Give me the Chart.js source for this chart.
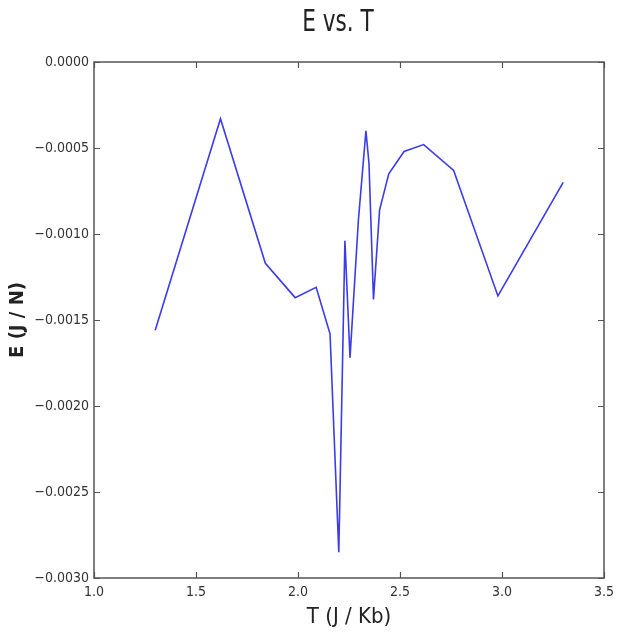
<!DOCTYPE html>
<html>
<head>
<meta charset="utf-8">
<script src="https://cdn.jsdelivr.net/npm/chart.js@4/dist/chart.umd.min.js"></script>
<style>
  html, body { margin: 0; padding: 0; background: #ffffff; }
  #wrap { width: 626px; height: 632px; position: relative; }
</style>
</head>
<body>
<div id="wrap"><canvas id="c" width="626" height="632"></canvas></div>
<script>
// Data
const temperatures = [1.30, 1.62, 1.84, 1.986, 2.089, 2.157, 2.20, 2.23, 2.255, 2.296, 2.333, 2.348, 2.37, 2.40, 2.445, 2.52, 2.616, 2.763, 2.98, 3.30];
const energies = [-0.00156, -0.00033, -0.00117, -0.00137, -0.00131, -0.00158, -0.00285, -0.00104, -0.00172, -0.00092, -0.00040, -0.00059, -0.00138, -0.00086, -0.00065, -0.00052, -0.00048, -0.00063, -0.00136, -0.00070];
const xTicks = [1.0, 1.5, 2.0, 2.5, 3.0, 3.5];
const yTicks = [0.0000, -0.0005, -0.0010, -0.0015, -0.0020, -0.0025, -0.0030];
const titleText = 'E vs. T';
const xTitle = 'T (J / Kb)';
const yTitle = 'E (J / N)';

const points = temperatures.map((t, i) => ({ x: t, y: energies[i] }));
const FONT = '"DejaVu Sans Condensed", "DejaVu Sans", sans-serif';

const framePlugin = {
  id: 'frame',
  afterDatasetsDraw(chart) {
    const { ctx, chartArea: a, scales } = chart;
    ctx.save();
    ctx.strokeStyle = '#555555';
    ctx.lineWidth = 1.2;
    const tl = 6;
    ctx.beginPath();
    xTicks.forEach(v => {
      const px = Math.round(scales.x.getPixelForValue(v)) + 0.5;
      ctx.moveTo(px, a.bottom); ctx.lineTo(px, a.bottom - tl);
      ctx.moveTo(px, a.top); ctx.lineTo(px, a.top + tl);
    });
    yTicks.forEach(v => {
      const py = Math.round(scales.y.getPixelForValue(v)) + 0.5;
      ctx.moveTo(a.left, py); ctx.lineTo(a.left + tl, py);
      ctx.moveTo(a.right, py); ctx.lineTo(a.right - tl, py);
    });
    ctx.stroke();
    ctx.lineWidth = 1.5;
    ctx.strokeRect(a.left, a.top, a.right - a.left, a.bottom - a.top);
    ctx.restore();
  },
  afterDraw(chart) {
    const { ctx } = chart;
    ctx.save();
    ctx.fillStyle = '#222222';
    ctx.font = '30px ' + FONT;
    ctx.textAlign = 'center';
    ctx.textBaseline = 'middle';
    ctx.translate(338, 23);
    ctx.scale(0.8, 1);
    ctx.fillText(titleText, 0, 0);
    ctx.restore();
  }
};

new Chart(document.getElementById('c'), {
  type: 'line',
  data: {
    datasets: [{
      data: points,
      borderColor: '#3b3bea',
      borderWidth: 1.6,
      pointRadius: 0,
      tension: 0,
      fill: false
    }]
  },
  options: {
    responsive: false,
    animation: false,
    layout: { padding: { top: 62, right: 22, left: 0, bottom: 0 } },
    plugins: {
      legend: { display: false },
      tooltip: { enabled: false },
      title: { display: false }
    },
    scales: {
      x: {
        type: 'linear',
        min: 1.0,
        max: 3.5,
        afterBuildTicks: s => { s.ticks = xTicks.map(v => ({ value: v })); },
        afterFit: s => { s.height = 54; },
        grid: { display: false, drawTicks: false },
        border: { display: false },
        ticks: {
          color: '#333333',
          font: { family: FONT, size: 14 },
          padding: 6,
          maxRotation: 0,
          callback: v => v.toFixed(1)
        },
        title: {
          display: true,
          text: xTitle,
          color: '#222222',
          font: { family: FONT, size: 22 },
          padding: { top: 0, bottom: 2 }
        }
      },
      y: {
        type: 'linear',
        min: -0.003,
        max: 0,
        afterBuildTicks: s => { s.ticks = yTicks.map(v => ({ value: v })); },
        afterFit: s => { s.width = 94; },
        grid: { display: false, drawTicks: false },
        border: { display: false },
        ticks: {
          color: '#333333',
          font: { family: FONT, size: 14 },
          padding: 5,
          callback: v => (v < 0 ? '\u2212' : '') + Math.abs(v).toFixed(4)
        },
        title: {
          display: true,
          text: yTitle,
          color: '#222222',
          font: { family: FONT, size: 20, weight: 'bold' },
          padding: { top: 6, bottom: 0 }
        }
      }
    }
  },
  plugins: [framePlugin]
});
</script>
</body>
</html>
